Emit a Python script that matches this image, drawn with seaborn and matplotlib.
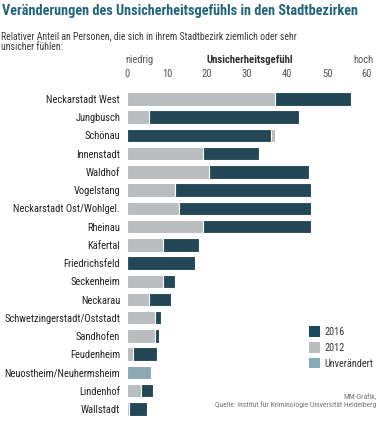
import pandas as pd
import matplotlib
matplotlib.use("Agg")
import matplotlib.pyplot as plt
from matplotlib.patches import Patch
import seaborn as sns

# --- Daten ---
bezirke = [
    "Neckarstadt West", "Jungbusch", "Schönau", "Innenstadt", "Waldhof",
    "Vogelstang", "Neckarstadt Ost/Wohlgel.", "Rheinau", "Käfertal",
    "Friedrichsfeld", "Seckenheim", "Neckarau", "Schwetzingerstadt/Oststadt",
    "Sandhofen", "Feudenheim", "Neuostheim/Neuhermsheim", "Lindenhof", "Wallstadt",
]
wert_2012 = [37, 5.5, 37, 19, 20.5, 12, 13, 19, 9, 0, 9, 5.5, 7, 7, 1.5, 6, 3.5, 0.5]
wert_2016 = [56, 43, 36, 33, 45.5, 46, 46, 46, 18, 17, 12, 11, 8.5, 8, 7.5, 6, 6.5, 5]
x_ticks = [0, 10, 20, 30, 40, 50, 60]

DUNKEL = "#1b4a5f"
GRAU = "#b9bdc0"
HELL = "#86a9ba"
TITEL = "#23647a"
farben = {"2016": DUNKEL, "2012": GRAU, "Unverändert": HELL}

# längerer Balken unten, kürzerer darüber
rows = []
for b, a, n in zip(bezirke, wert_2012, wert_2016):
    if a == n:
        rows.append((b, n, "Unverändert", a, "Unverändert"))
    elif n > a:
        rows.append((b, n, "2016", a, "2012"))
    else:
        rows.append((b, a, "2012", n, "2016"))
df = pd.DataFrame(rows, columns=["Bezirk", "lang", "lang_key", "kurz", "kurz_key"])

sns.set_style("white")
plt.rcParams["font.family"] = ["Roboto Condensed", "Roboto", "DejaVu Sans"]

fig = plt.figure(figsize=(3.77, 4.25), dpi=100)
ax = fig.add_axes([0.337, 0.0165, 0.6365, 0.772])

sns.barplot(data=df, y="Bezirk", x="lang", hue="lang_key", palette=farben,
            order=bezirke, dodge=False, legend=False, width=0.74,
            edgecolor="white", linewidth=0.8, orient="h", ax=ax)
sns.barplot(data=df, y="Bezirk", x="kurz", hue="kurz_key", palette=farben,
            order=bezirke, dodge=False, legend=False, width=0.74,
            edgecolor="white", linewidth=0.8, orient="h", ax=ax)

ax.set_xlim(0, 60)
ax.set_ylim(len(bezirke) - 0.5, -0.5)
ax.xaxis.tick_top()
ax.set_xticks(x_ticks)
ax.tick_params(axis="x", length=0, pad=8, labelsize=7.6, labelcolor="#555555")
ax.tick_params(axis="y", length=0, pad=5, labelsize=7.6, labelcolor="#222222")
ax.set_xlabel("")
ax.set_ylabel("")
sns.despine(ax=ax, left=True, bottom=True, top=True, right=True)


def breite_anpassen(txt, ziel_px):
    # Schriftgröße so setzen, dass der Text die Zielbreite erreicht
    r = fig.canvas.get_renderer()
    w = txt.get_window_extent(renderer=r).width
    txt.set_fontsize(txt.get_fontsize() * ziel_px / w)


# Titel und Untertitel
titel = fig.text(0.005, 0.974, "Veränderungen des Unsicherheitsgefühls in den Stadtbezirken",
                 ha="left", va="center", fontsize=10, fontweight="bold", color=TITEL)
breite_anpassen(titel, 358)
unter = fig.text(0.003, 1 - 36 / 425, "Relativer Anteil an Personen, die sich in ihrem Stadtbezirk ziemlich oder sehr",
                 ha="left", va="center", fontsize=7, color="#3a3a3a")
breite_anpassen(unter, 298)
fig.text(0.003, 1 - 47 / 425, "unsicher fühlen:", ha="left", va="center",
         fontsize=unter.get_fontsize(), color="#3a3a3a")

# Skalenüberschrift
kopf_y = 1 - 60 / 425
fig.text(125 / 377, kopf_y, "niedrig", ha="left", va="center", fontsize=7.6, color="#555555")
fig.text(250 / 377, kopf_y, "Unsicherheitsgefühl", ha="center", va="center",
         fontsize=7.8, fontweight="bold", color="#333333")
fig.text(374 / 377, kopf_y, "hoch", ha="right", va="center", fontsize=7.6, color="#555555")

# Legende
handles = [Patch(facecolor=farben[k], edgecolor="none") for k in farben]
fig.legend(handles, list(farben.keys()), loc="upper left",
           bbox_to_anchor=(305 / 377, 1 - 322 / 425), frameon=False,
           fontsize=7.4, handlelength=1.05, handleheight=1.2, handletextpad=0.4,
           labelspacing=0.5, borderaxespad=0, labelcolor="#333333")

# Quelle
fig.text(0.999, 1 - 401 / 425, "MM-Grafik,\nQuelle: Institut für Kriminologie Universität Heidelberg",
         ha="right", va="center", fontsize=5.5, color="#777777", linespacing=1.2)

fig.savefig("out.png", dpi=100)
